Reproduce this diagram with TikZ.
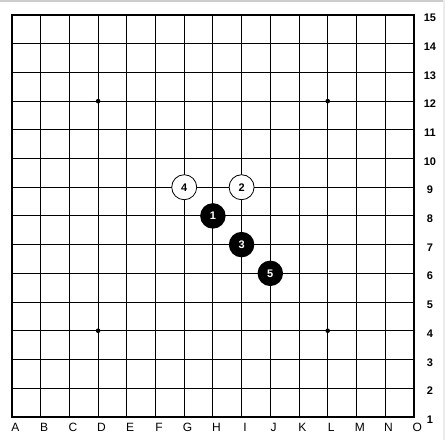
\documentclass[tikz,border=0pt]{standalone}
\usepackage{fontspec}
\setmainfont{Liberation Sans}
\usepackage{tikz}
\tikzset{
  blackstone/.style={circle, fill=black, text=white, inner sep=0pt, minimum size=25.5pt, font=\bfseries\fontsize{11}{11}\selectfont},
  whitestone/.style={circle, draw=black, line width=0.8pt, fill=white, text=black, inner sep=0pt, minimum size=25pt, font=\bfseries\fontsize{11}{11}\selectfont},
  collabel/.style={font=\fontsize{12}{12}\selectfont, inner sep=0pt},
  rowlabel/.style={font=\bfseries\fontsize{11}{11}\selectfont, inner sep=0pt}
}

\begin{document}
\begin{tikzpicture}[x=28.7pt, y=-28.7pt]
\useasboundingbox[fill=white] (-0.418,-0.523) rectangle (15.087,14.808);
\fill[black!20] (-0.418,-0.523) rectangle (15.087,-0.46);
\fill[black!8] (15.02,-0.523) rectangle (15.087,14.808);
\foreach \i in {1,...,13}
{
  \draw[line width=1pt] (\i,0) -- (\i,14);
  \draw[line width=1pt] (0,\i) -- (14,\i);
}
\draw[line width=2.6pt] (0,0) rectangle (14,14);
\foreach \p in {(3,3),(11,3),(3,11),(11,11)}
{
  \fill \p circle (2.3pt);
}
\foreach \l [count=\c from 0] in {A,B,C,D,E,F,G,H,I,J,K,L,M,N,O}
{
  \node[collabel] (col\l) at (\c+0.12,14.36) {\l};
}
\foreach \r in {1,...,15}
{
  \node[rowlabel] (row\r) at (14.56,15.1-\r) {\r};
}
\node[whitestone] (s4) at (6,6) {4};
\node[whitestone] (s2) at (8,6) {2};
\node[blackstone] (s1) at (7,7) {1};
\node[blackstone] (s3) at (8,8) {3};
\node[blackstone] (s5) at (9,9) {5};
\end{tikzpicture}
\end{document}
